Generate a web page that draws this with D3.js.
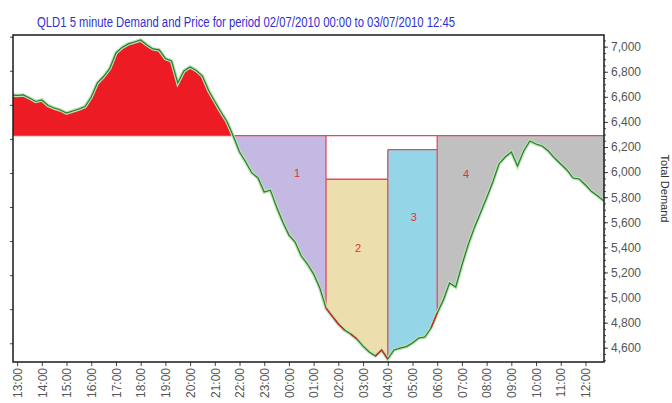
<!DOCTYPE html>
<html>
<head>
<meta charset="utf-8">
<script src="https://cdn.jsdelivr.net/npm/d3@7"></script>
<style>
  body { margin: 0; background: #fff; }
  svg { display: block; font-family: "Liberation Sans", Arial, sans-serif; }
</style>
</head>
<body>
<svg width="672" height="403"></svg>
<script>
// DATA

  var title = "QLD1 5 minute Demand and Price for period 02/07/2010 00:00 to 03/07/2010 12:45";
  var axisTitle = "Total Demand";

  // demand, one reading every 15 minutes from 02/07 12:45
  var startTime = "12:45";
  var demand = [
    6615, 6611, 6615, 6591, 6563, 6575, 6531, 6511, 6495, 6471,
    6487, 6503, 6523, 6599, 6711, 6762, 6826, 6950, 6994, 7022,
    7037, 7053, 7014, 6982, 6974, 6906, 6886, 6711, 6806, 6838,
    6810, 6766, 6651, 6563, 6479, 6400, 6285, 6160, 6081, 5993,
    5953, 5841, 5856, 5721, 5602, 5498, 5442, 5331, 5267, 5187,
    5076, 4916, 4852, 4789, 4741, 4709, 4669, 4613, 4566, 4534,
    4582, 4510, 4582, 4597, 4609, 4637, 4677, 4685, 4757, 4877,
    4980, 5116, 5084, 5259, 5419, 5555, 5674, 5794, 5921, 6065,
    6120, 6160, 6049, 6168, 6248, 6224, 6208, 6168, 6112, 6065,
    6017, 5953, 5945, 5897, 5845, 5810, 5770
  ];

  var threshold = 6290;

  var bandNames = ["1", "2", "3", "4"];
  var bandFrom = ["12:45", "01:30", "04:00", "06:00"];
  var bandTo = ["01:30", "04:00", "06:00", "12:45"];
  var bandLevel = [6290, 5943, 6179, 6290];
  var labelTime = ["00:20", "02:48", "05:03", "07:10"];
  var labelValue = [5990, 5395, 5642, 5985];

  // stretches where the demand trace is drawn red
  var redFrom = ["01:30", "02:30", "03:30", "05:45"];
  var redTo = ["02:15", "02:45", "04:00", "06:00"];

  var domainStart = "12:50", domainEnd = "12:45";
  var yDomain = [4486, 7093];
  var yTicks = d3.range(4600, 7001, 200);
  var yMinor = d3.range(4500, 7051, 50);
  var priceDomain = [-5.5, 90.5];

// SETUP

  var bandFill = ["#c4b9e3", "#ecdfad", "#95d5e8", "#c0c0c0"];
  var outline = "#e24a62";

  var svg = d3.select("svg"),
    margin = { top: 35, right: 68, bottom: 41, left: 13 },
    width = +svg.attr("width") - margin.left - margin.right,
    height = +svg.attr("height") - margin.top - margin.bottom;

  // "HH:MM" -> date; times before 12:45 belong to the next day
  function at(s) {
    var p = s.split(":"), h = +p[0], m = +p[1];
    var day = (h * 60 + m < 12 * 60 + 45) ? 3 : 2;
    if (s === domainEnd && day === 2) day = 3;
    return new Date(2010, 6, day, h, m);
  }

  var t0 = at(startTime);
  t0 = new Date(2010, 6, 2, t0.getHours(), t0.getMinutes());
  var data = demand.map(function (v, i) {
    return { t: d3.timeMinute.offset(t0, i * 15), v: v };
  });

  var x = d3.scaleTime()
    .domain([new Date(2010, 6, 2, 12, 50), new Date(2010, 6, 3, 12, 45)])
    .range([0, width]);
  var y = d3.scaleLinear().domain(yDomain).range([height, 0]);
  var yPrice = d3.scaleLinear().domain(priceDomain).range([height, 0]);

  var g = svg.append("g")
    .attr("transform", "translate(" + margin.left + "," + margin.top + ")");

  g.append("clipPath").attr("id", "plot")
    .append("rect").attr("width", width).attr("height", height);

  var plot = g.append("g").attr("clip-path", "url(#plot)");

// DRAWING

  // red area above the threshold
  plot.append("path")
    .datum(data)
    .attr("fill", "#ed1c24")
    .attr("d", d3.area()
      .x(function (d) { return x(d.t); })
      .y0(y(threshold))
      .y1(function (d) { return y(Math.max(d.v, threshold)); }));

  // numbered bands under the threshold
  bandNames.forEach(function (name, i) {
    var a = at(bandFrom[i]), b = at(bandTo[i]);
    if (i === 0) a = data[0].t;
    var part = data.filter(function (d) { return d.t >= a && d.t <= b; });
    plot.append("path")
      .datum(part)
      .attr("fill", bandFill[i])
      .attr("d", d3.area()
        .x(function (d) { return x(d.t); })
        .y0(y(bandLevel[i]))
        .y1(function (d) { return y(Math.min(d.v, bandLevel[i])); }));
  });

  // band outlines
  plot.append("line")
    .attr("x1", 0).attr("x2", width)
    .attr("y1", y(threshold)).attr("y2", y(threshold))
    .attr("stroke", outline).attr("stroke-width", 1.3);

  bandNames.forEach(function (name, i) {
    if (i === 0) return;
    var a = at(bandFrom[i]), b = at(bandTo[i]);
    var dv = data.find(function (d) { return +d.t === +a; });
    var top = Math.max(bandLevel[i], bandLevel[i - 1]);
    plot.append("line")
      .attr("x1", x(a)).attr("x2", x(a))
      .attr("y1", y(top)).attr("y2", y(dv.v))
      .attr("stroke", outline).attr("stroke-width", 1.3);
    if (bandLevel[i] !== threshold) {
      plot.append("line")
        .attr("x1", x(a)).attr("x2", x(b))
        .attr("y1", y(bandLevel[i])).attr("y2", y(bandLevel[i]))
        .attr("stroke", outline).attr("stroke-width", 1.3);
    }
  });

  // demand trace
  var line = d3.line()
    .x(function (d) { return x(d.t); })
    .y(function (d) { return y(d.v); });

  plot.append("path")
    .datum(data)
    .attr("fill", "none")
    .attr("stroke", "#b9e2b4")
    .attr("stroke-width", 3.5)
    .attr("d", line);

  plot.append("path")
    .datum(data)
    .attr("fill", "none")
    .attr("stroke", "#2b7b2e")
    .attr("stroke-width", 1.2)
    .attr("d", line);

  redFrom.forEach(function (s, i) {
    var a = at(s), b = at(redTo[i]);
    plot.append("path")
      .datum(data.filter(function (d) { return d.t >= a && d.t <= b; }))
      .attr("fill", "none")
      .attr("stroke", "#e0202a")
      .attr("stroke-width", 1.4)
      .attr("d", line);
  });

  // band numbers
  bandNames.forEach(function (name, i) {
    g.append("text")
      .attr("x", x(at(labelTime[i])))
      .attr("y", y(labelValue[i]))
      .attr("text-anchor", "middle")
      .attr("dy", "0.35em")
      .style("font-size", "11px")
      .style("fill", "#e03030")
      .text(name);
  });

// AXES

  g.append("g")
    .attr("class", "axis axis--x")
    .attr("transform", "translate(0," + height + ")")
    .call(d3.axisBottom(x).ticks(d3.timeHour.every(1)).tickFormat(d3.timeFormat("%H:%M")).tickSize(4).tickSizeOuter(0))
    .selectAll("text")
      .style("text-anchor", "end")
      .attr("x", -6)
      .attr("y", 0)
      .attr("dy", "0.35em")
      .attr("transform", "rotate(-90)");

  g.append("g")
    .attr("transform", "translate(" + width + ",0)")
    .call(d3.axisRight(y).tickValues(yMinor).tickFormat("").tickSize(2).tickSizeOuter(0));

  g.append("g")
    .attr("class", "axis axis--y")
    .attr("transform", "translate(" + width + ",0)")
    .call(d3.axisRight(y).tickValues(yTicks).tickFormat(d3.format(",")).tickSize(4).tickSizeOuter(0));

  g.append("g")
    .attr("class", "axis")
    .call(d3.axisLeft(yPrice).ticks(10).tickFormat("").tickSize(3).tickSizeOuter(0));

  g.selectAll(".axis text")
    .style("font-size", "12px")
    .style("fill", "#555")
    .style("font-family", "\"Liberation Sans\", Arial, sans-serif");
  g.selectAll(".tick line").attr("stroke", "#444");
  g.selectAll(".domain").remove();

  // frame
  g.append("rect")
    .attr("width", width)
    .attr("height", height)
    .attr("fill", "none")
    .attr("stroke", "#1a1a1a")
    .attr("stroke-width", 1.5);

  svg.append("text")
    .attr("transform", "translate(661," + (margin.top + height / 2 - 10) + ") rotate(90)")
    .attr("text-anchor", "middle")
    .style("font-size", "11px")
    .style("fill", "#333")
    .text(axisTitle);

  svg.append("text")
    .attr("x", 37)
    .attr("y", 27)
    .attr("textLength", 418)
    .attr("lengthAdjust", "spacingAndGlyphs")
    .style("font-size", "14px")
    .style("fill", "#3030d0")
    .text(title);

</script>
</body>
</html>
